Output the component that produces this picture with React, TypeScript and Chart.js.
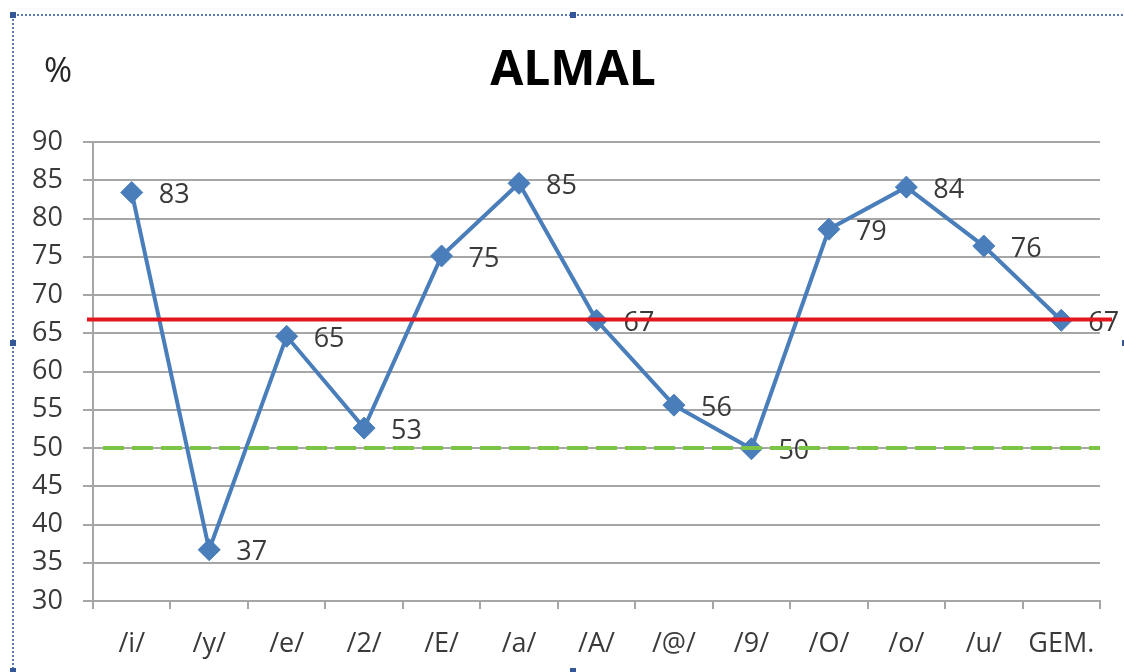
import React, { useEffect, useRef } from "react";
import { Chart, registerables } from "chart.js";

Chart.register(...registerables);

const chartTitle = "ALMAL";
const unitLabel = "%";
const categories = ["/i/", "/y/", "/e/", "/2/", "/E/", "/a/", "/A/", "/@/", "/9/", "/O/", "/o/", "/u/", "GEM."];
const scores = [83.4, 36.7, 64.6, 52.6, 75.1, 84.6, 66.7, 55.6, 49.9, 78.6, 84.1, 76.4, 66.7];
const yMin = 30;
const yMax = 90;
const yStep = 5;
const meanLine = 66.8;
const thresholdLine = 50;

const FONT = '"Open Sans", "Noto Sans", sans-serif';

const decorPlugin = {
  id: "decor",
  beforeDraw(chart: any) {
    const ctx = chart.ctx;
    ctx.save();
    ctx.fillStyle = "#ffffff";
    ctx.fillRect(0, 0, chart.width, chart.height);
    ctx.restore();
  },
  afterDatasetsDraw(chart: any) {
    const ctx = chart.ctx;
    const meta = chart.getDatasetMeta(0);
    const area = chart.chartArea;
    const y = chart.scales.y;
    ctx.save();
    // data labels
    ctx.font = `27px ${FONT}`;
    ctx.fillStyle = "#3a3a3a";
    ctx.textAlign = "left";
    ctx.textBaseline = "middle";
    meta.data.forEach((pt: any, i: number) => {
      ctx.fillText(String(Math.round(scores[i])), pt.x + 27, pt.y + 3);
    });
    // mean line (red)
    const ym = y.getPixelForValue(meanLine);
    ctx.strokeStyle = "#e3161d";
    ctx.lineWidth = 4;
    ctx.beginPath();
    ctx.moveTo(area.left - 6, ym);
    ctx.lineTo(area.right + 12, ym);
    ctx.stroke();
    // threshold line (green dashed)
    const yt = y.getPixelForValue(thresholdLine);
    ctx.strokeStyle = "#7cc444";
    ctx.lineWidth = 4;
    ctx.setLineDash([21, 8]);
    ctx.beginPath();
    ctx.moveTo(area.left + 10, yt);
    ctx.lineTo(area.right, yt);
    ctx.stroke();
    ctx.restore();
  },
  afterDraw(chart: any) {
    const ctx = chart.ctx;
    ctx.save();
    // title
    ctx.fillStyle = "#000000";
    ctx.font = `bold 48px ${FONT}`;
    ctx.textAlign = "center";
    ctx.textBaseline = "middle";
    ctx.fillText(chartTitle, 573, 71);
    // unit label
    ctx.fillStyle = "#262626";
    ctx.font = `34px ${FONT}`;
    ctx.fillText(unitLabel, 58, 72);
    // selection frame
    ctx.strokeStyle = "#5a7bb5";
    ctx.lineWidth = 2;
    ctx.setLineDash([2, 2]);
    ctx.strokeRect(13, 15, 1113, 658);
    ctx.setLineDash([]);
    ctx.fillStyle = "#34579a";
    const handles = [
      [13, 15], [573, 15], [13, 343], [13, 671], [573, 671], [1125, 343],
    ];
    handles.forEach(([hx, hy]) => ctx.fillRect(hx - 3, hy - 3, 6, 6));
    ctx.restore();
  },
};

export default function App() {
  const canvasRef = useRef<HTMLCanvasElement | null>(null);

  useEffect(() => {
    if (!canvasRef.current) return;
    const chart = new Chart(canvasRef.current, {
      type: "line",
      data: {
        labels: categories,
        datasets: [
          {
            label: chartTitle,
            data: scores,
            borderColor: "#4a7ebb",
            backgroundColor: "#4a7ebb",
            borderWidth: 4,
            pointStyle: "rectRot",
            pointRadius: 11,
            pointBorderWidth: 1,
            pointBackgroundColor: "#4a7ebb",
            pointBorderColor: "#4a7ebb",
            tension: 0,
            fill: false,
          },
        ],
      },
      options: {
        responsive: false,
        animation: false,
        devicePixelRatio: 1,
        layout: { padding: { left: 0, top: 142, right: 24, bottom: 0 } },
        plugins: {
          legend: { display: false },
          title: { display: false },
          tooltip: { enabled: false },
        },
        scales: {
          x: {
            type: "category",
            offset: true,
            grid: {
              offset: true,
              drawOnChartArea: false,
              drawTicks: true,
              tickLength: 8,
              color: "#a6a6a6",
              lineWidth: 2,
            },
            border: { display: true, color: "#a6a6a6", width: 2 },
            ticks: {
              color: "#3a3a3a",
              font: { family: FONT, size: 27 },
              padding: 19,
              maxRotation: 0,
              autoSkip: false,
            },
            afterFit: (scale: any) => {
              scale.height = 71;
            },
          },
          y: {
            min: yMin,
            max: yMax,
            ticks: {
              stepSize: yStep,
              color: "#3a3a3a",
              font: { family: FONT, size: 27 },
              padding: 20,
            },
            grid: {
              color: "#a6a6a6",
              lineWidth: 2,
              tickLength: 10,
              drawTicks: true,
            },
            border: { display: true, color: "#a6a6a6", width: 2 },
            afterFit: (scale: any) => {
              scale.width = 93;
            },
          },
        },
      },
      plugins: [decorPlugin],
    });
    return () => chart.destroy();
  }, []);

  return (
    <div style={{ position: "absolute", left: 0, top: 0, width: 1124, height: 672, background: "#fff" }}>
      <canvas ref={canvasRef} width={1124} height={672} style={{ display: "block", width: 1124, height: 672 }} />
    </div>
  );
}
